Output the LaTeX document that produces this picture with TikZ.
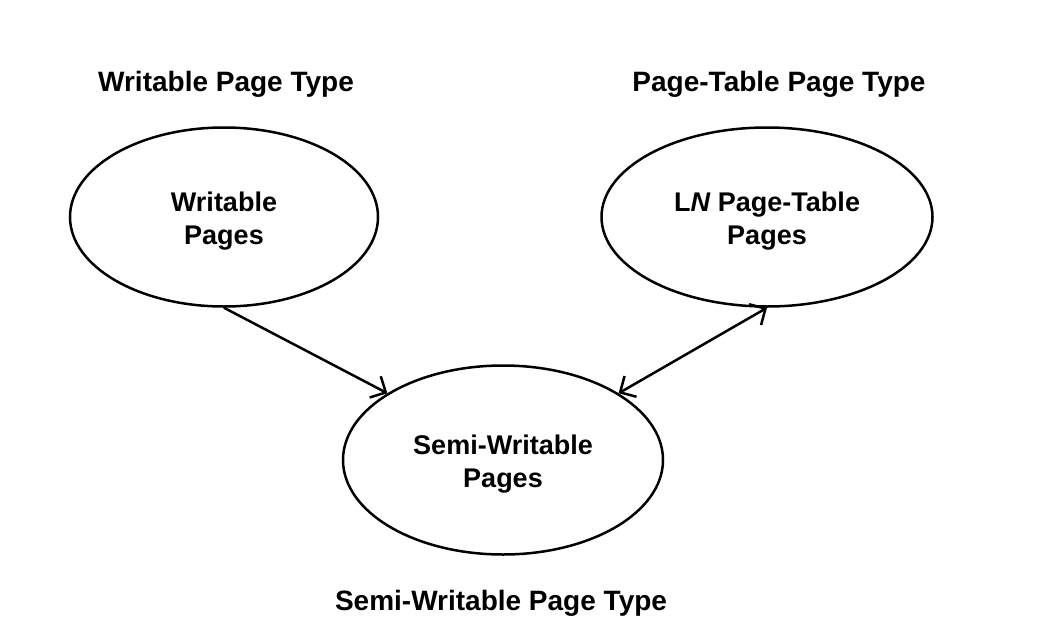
\documentclass[tikz,border=0pt]{standalone}
\usepackage{fontspec}
\setmainfont{Liberation Sans}
\usepackage{tikz}
\usetikzlibrary{shapes.geometric,arrows.meta}
\tikzset{
  every page set/.style={draw,line width=2.5pt},
  every type label/.style={anchor=base,font=\fontsize{28}{34}\selectfont\bfseries},
  barb/.tip={Straight Barb[length=12pt,width=24pt,line width=2.5pt]},
}
\colorlet{pageLine}{black}

\begin{document}
\begin{tikzpicture}[
  x=1pt,y=-1pt,
  font=\fontsize{27}{33}\selectfont\bfseries,
  page set/.style={ellipse,every page set,draw=pageLine,inner sep=0pt,align=center,
    text height=61pt,text depth=6pt,minimum width=#1,minimum height=179pt},
  type label/.style={every type label},
  link/.style={line width=2.5pt,draw=pageLine},
]
\useasboundingbox (0,0) rectangle (1052,637);
\node[page set=308pt] (writablePages) at (224,217) {Writable\\Pages};
\node[page set=331pt] (tablePages) at (767,217) {L\textit{N} Page-Table\\Pages};
\node[page set=320pt,minimum height=189pt] (semiPages) at (503,460) {Semi-Writable\\Pages};
\node[type label] (writableType) at (226,91) {Writable Page Type};
\node[type label] (tableType) at (779,91) {Page-Table Page Type};
\node[type label] (semiType) at (501,610) {Semi-Writable Page Type};
\draw[link,-barb] (writablePages.south) -- (semiPages.150);
\draw[link,barb-barb] (semiPages.30) -- (tablePages.south);
\end{tikzpicture}
\end{document}
